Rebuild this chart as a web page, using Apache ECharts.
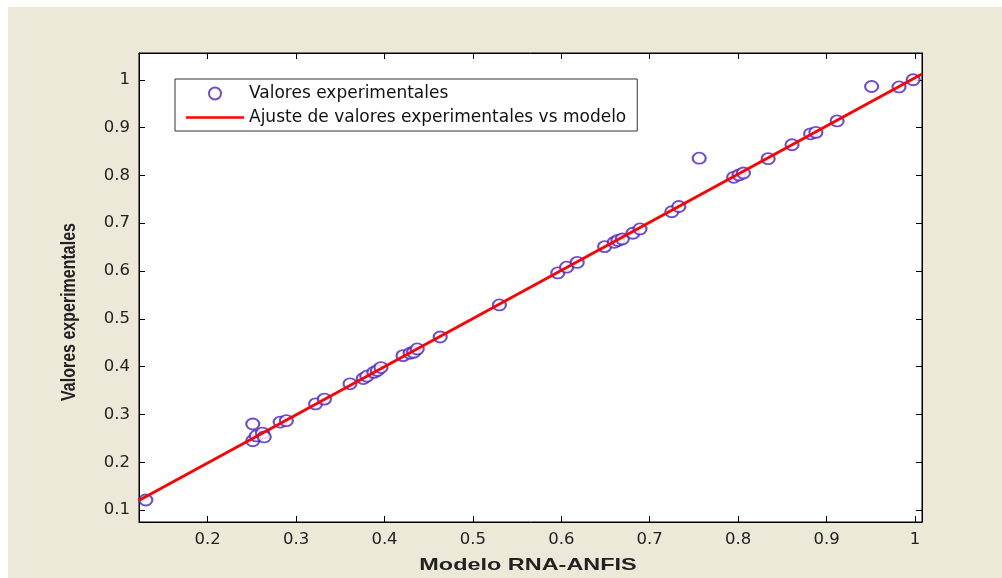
<!DOCTYPE html>
<html>
<head>
<meta charset="utf-8">
<script src="https://cdn.jsdelivr.net/npm/echarts@6/dist/echarts.min.js"></script>
<style>
    html, body { margin: 0; padding: 0; background: #fff; }
    #chart { width: 1002px; height: 578px; }
</style>
</head>
<body>
<div id="chart"></div>
<script>
    // modelo (x) vs experimental (y)
    var modelo = [0.130, 0.251, 0.251, 0.255, 0.262, 0.264, 0.282, 0.289, 0.322, 0.332,
        0.361, 0.376, 0.380, 0.388, 0.392, 0.396, 0.421, 0.429, 0.433, 0.437,
        0.463, 0.530, 0.596, 0.606, 0.618, 0.649, 0.660, 0.664, 0.669, 0.681,
        0.689, 0.725, 0.733, 0.756, 0.795, 0.801, 0.806, 0.834, 0.861, 0.882,
        0.888, 0.912, 0.951, 0.982, 0.998]
    var experimental = [0.121, 0.280, 0.245, 0.255, 0.261, 0.253, 0.284, 0.287, 0.322, 0.332,
        0.364, 0.375, 0.380, 0.388, 0.392, 0.398, 0.423, 0.428, 0.430, 0.437,
        0.462, 0.529, 0.596, 0.608, 0.618, 0.651, 0.660, 0.664, 0.667, 0.679,
        0.688, 0.724, 0.735, 0.836, 0.796, 0.801, 0.805, 0.835, 0.864, 0.887,
        0.890, 0.914, 0.986, 0.985, 1.000]
    // recta de ajuste
    var ajusteX = [0.122, 1.008]
    var ajusteY = [0.120, 1.012]

    var xTicks = [0.2, 0.3, 0.4, 0.5, 0.6, 0.7, 0.8, 0.9, 1]
    var yTicks = [0.1, 0.2, 0.3, 0.4, 0.5, 0.6, 0.7, 0.8, 0.9, 1]

    var puntos = modelo.map(function (v, i) { return [v, experimental[i]] })
    var recta = ajusteX.map(function (v, i) { return [v, ajusteY[i]] })

    var font = 'Liberation Sans, Arial, sans-serif'
    var wideFont = 'DejaVu Sans, Verdana, sans-serif'
    var tickStyle = { show: true, inside: true, length: 6, lineStyle: { color: '#000' } }

    function makeAxis (ticks, min, max, opts) {
        return Object.assign({
            type: 'value',
            min: min,
            max: max,
            splitLine: { show: false },
            axisLine: { show: true, onZero: false, lineStyle: { color: '#000', width: 1 } },
            axisTick: Object.assign({ customValues: ticks }, tickStyle),
            axisLabel: {
                show: true,
                customValues: ticks,
                color: '#222',
                fontFamily: wideFont,
                fontSize: 16.5,
                margin: 9
            }
        }, opts)
    }

    var chart = echarts.init(document.getElementById('chart'))
    chart.setOption({
        backgroundColor: '#fff',
        animation: false,
        graphic: [{
            type: 'rect',
            z: -10,
            shape: { x: 8, y: 7, width: 1000, height: 580 },
            style: { fill: '#ece9d8' }
        }, {
            // titulo eje x
            type: 'text',
            x: 528,
            y: 565,
            scaleX: 1.42,
            style: {
                text: 'Modelo RNA-ANFIS',
                fill: '#222',
                font: 'bold 16.5px ' + font,
                align: 'center',
                verticalAlign: 'middle'
            }
        }, {
            // titulo eje y
            type: 'text',
            x: 69,
            y: 312,
            rotation: Math.PI / 2,
            scaleY: 1.25,
            style: {
                text: 'Valores experimentales',
                fill: '#222',
                font: 'bold 16px ' + font,
                align: 'center',
                verticalAlign: 'middle'
            }
        }],
        grid: {
            left: 139,
            top: 53,
            width: 783,
            height: 469,
            show: true,
            backgroundColor: '#fff',
            borderColor: '#000',
            borderWidth: 1
        },
        legend: {
            left: 175,
            top: 79,
            orient: 'vertical',
            backgroundColor: '#fff',
            borderColor: '#333',
            borderWidth: 1,
            borderRadius: 0,
            padding: [6, 11, 5, 11],
            itemWidth: 58,
            itemHeight: 12,
            itemGap: 7,
            textStyle: { fontFamily: wideFont, fontSize: 17, color: '#111' },
            data: [
                { name: 'Valores experimentales', icon: 'emptyCircle' },
                { name: 'Ajuste de valores experimentales vs modelo', icon: 'path://M0,0 H58 V2.5 H0 Z' }
            ]
        },
        xAxis: [
            makeAxis(xTicks, 0.1223, 1.008, { position: 'bottom' }),
            makeAxis(xTicks, 0.1223, 1.008, { position: 'top', axisLabel: { show: false } })
        ],
        yAxis: [
            makeAxis(yTicks, 0.075, 1.056, { position: 'left' }),
            makeAxis(yTicks, 0.075, 1.056, { position: 'right', axisLabel: { show: false } })
        ],
        series: [{
            name: 'Valores experimentales',
            type: 'scatter',
            data: puntos,
            symbol: 'emptyCircle',
            symbolSize: [13, 11],
            itemStyle: { color: '#4b22c0', borderColor: '#4b22c0', borderWidth: 1.2 },
            z: 3
        }, {
            name: 'Ajuste de valores experimentales vs modelo',
            type: 'line',
            data: recta,
            symbol: 'none',
            lineStyle: { color: '#ff0000', width: 2.8 },
            itemStyle: { color: '#ff0000' },
            z: 4
        }]
    })
</script>
</body>
</html>
